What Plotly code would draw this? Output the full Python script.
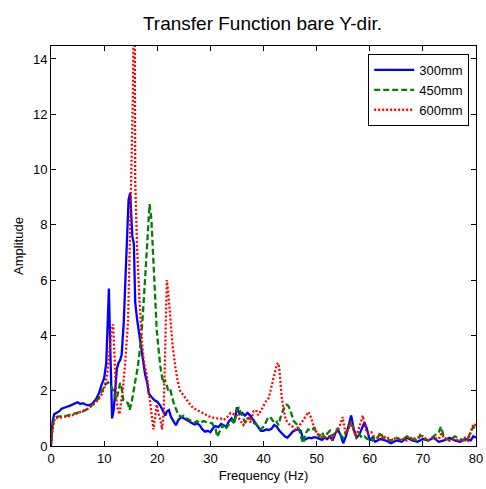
import plotly.graph_objects as go

# ---- data ----
f_300 = [0, 0.3, 0.6, 1, 1.5, 2, 2.5, 3, 3.5, 4, 4.5, 5, 5.5, 6, 6.5, 7, 7.5, 8, 8.5, 9, 9.5, 10,
         10.4, 10.7, 10.9, 11.1, 11.3, 11.5, 11.8, 12, 12.4, 12.7, 13, 13.3, 13.7, 14, 14.3, 14.6,
         14.9, 15.1, 15.3, 15.6, 15.85, 16.2, 16.5, 17.1, 17.7, 18.1, 18.4, 19, 19.5, 20, 20.6, 21,
         21.5, 21.8, 22.2, 22.6, 23, 23.5, 24, 24.6, 25, 25.5, 26, 26.5, 27, 27.5, 28, 28.5, 29,
         29.5, 30, 30.5, 31, 31.5, 32, 32.5, 33, 33.5, 34, 34.5, 35, 35.5, 36, 36.5, 37, 37.5, 38,
         38.5, 39, 39.5, 40, 40.5, 41, 41.5, 42, 42.5, 43, 43.5, 44, 44.5, 45, 45.5, 46, 46.5, 47,
         47.5, 48, 48.5, 49, 49.5, 50, 50.5, 51, 51.5, 52, 52.5, 53, 53.5, 54, 54.5, 55, 55.5, 56,
         56.5, 57, 57.5, 58, 58.5, 59, 59.5, 60, 60.5, 61, 62, 63, 64, 65, 66, 67, 68, 69, 70, 71,
         72, 73, 74, 75, 76, 77, 78, 79, 79.5, 80]
a_300 = [0, 0.9, 1.15, 1.2, 1.25, 1.35, 1.4, 1.42, 1.45, 1.5, 1.55, 1.58, 1.52, 1.55, 1.5, 1.47, 1.5,
         1.58, 1.7, 1.9, 2.2, 2.45, 3.0, 4.5, 5.7, 4.0, 2.0, 1.0, 1.3, 1.9, 2.8, 3.0, 3.1, 3.3, 4.5,
         6.0, 7.8, 8.9, 9.15, 8.5, 7.6, 7.3, 5.2, 4.6, 4.2, 3.4, 2.6, 2.3, 1.9, 1.75, 1.65, 1.6, 1.45,
         1.3, 1.1, 1.25, 1.3, 1.05, 0.9, 0.75, 0.95, 1.05, 1.0, 0.95, 0.9, 0.85, 0.78, 0.82, 0.75,
         0.6, 0.52, 0.55, 0.5, 0.65, 0.72, 0.68, 0.8, 0.75, 0.7, 0.9, 1.0, 0.85, 1.4, 1.15, 1.2, 1.1,
         1.2, 1.1, 0.95, 0.8, 0.65, 0.55, 0.55, 0.6, 0.58, 0.62, 0.76, 0.7, 0.55, 0.45, 0.35, 0.3,
         0.4, 0.52, 0.58, 0.6, 0.55, 0.22, 0.25, 0.3, 0.28, 0.32, 0.3, 0.25, 0.22, 0.3, 0.25, 0.35,
         0.2, 0.45, 0.6, 0.4, 0.1, 0.35, 0.7, 1.1, 0.6, 0.3, 0.4, 0.6, 0.85, 0.6, 0.2, 0.3, 0.15,
         0.25, 0.2, 0.1, 0.2, 0.15, 0.3, 0.2, 0.15, 0.25, 0.2, 0.3, 0.15, 0.2, 0.3, 0.2, 0.15, 0.25,
         0.2, 0.35, 0.3]

f_450 = [0, 0.3, 0.6, 1, 2, 3, 4, 5, 6, 7, 8, 8.5, 9, 9.5, 10.1, 10.75, 11.2, 11.7, 12.3, 12.7, 13,
         13.3, 13.6, 14, 14.5, 14.8, 15.2, 15.8, 16.3, 16.8, 17.2, 17.7, 18.1, 18.55, 18.9, 19.3,
         19.9, 20.3, 20.6, 21.1, 21.4, 21.8, 22.1, 22.5, 23.1, 23.6, 24, 24.5, 25, 25.5, 26.2, 27,
         27.5, 28, 28.7, 29.5, 30.3, 30.7, 31, 31.3, 31.7, 32.3, 32.8, 33.2, 33.7, 34.1, 34.5, 35,
         35.4, 35.7, 36.2, 36.6, 37, 37.5, 38, 38.8, 39.3, 39.8, 40.3, 40.8, 41.3, 41.8, 42.3, 42.8,
         43.3, 43.8, 44.3, 44.7, 45.2, 45.7, 46.2, 46.7, 47.2, 47.5, 47.9, 48.4, 49, 49.5, 50, 50.5,
         51, 51.5, 52, 52.5, 53, 53.5, 54, 54.5, 55, 55.5, 56, 56.5, 57, 57.5, 58, 58.5, 59, 59.5,
         60, 60.5, 61, 61.5, 62, 62.5, 63, 64, 65, 66, 67, 68, 69, 69.5, 70, 71, 72, 73, 73.4, 74,
         75, 76, 77, 78, 78.5, 79, 79.5, 80]
a_450 = [0.1, 0.7, 1.0, 1.05, 1.08, 1.1, 1.15, 1.2, 1.25, 1.35, 1.5, 1.6, 1.75, 1.95, 2.2, 2.3, 2.2,
         2.0, 1.66, 2.0, 2.28, 2.1, 1.66, 1.6, 1.55, 1.3, 1.6, 2.28, 2.8, 3.6, 4.5, 6.0, 7.5, 8.75,
         8.2, 6.6, 4.2, 3.4, 2.86, 2.28, 2.4, 2.2, 1.95, 2.0, 1.55, 1.3, 1.12, 1.05, 1.1, 1.0, 0.94,
         0.85, 0.9, 0.82, 0.9, 0.85, 0.83, 0.7, 0.6, 0.33, 0.5, 0.76, 0.6, 0.7, 0.85, 0.94, 0.8, 1.3,
         1.4, 1.2, 1.0, 0.83, 1.0, 1.0, 0.85, 0.76, 0.6, 0.65, 0.8, 1.0, 1.05, 0.9, 0.95, 0.75, 1.1,
         1.35, 1.5, 1.45, 1.2, 0.9, 0.8, 0.6, 0.25, 0.1, 0.45, 0.6, 0.55, 0.65, 0.5, 0.35, 0.5, 0.3,
         0.45, 0.55, 0.35, 0.5, 0.65, 0.4, 0.3, 0.5, 0.65, 0.9, 0.6, 0.3, 0.45, 0.3, 0.35, 0.25, 0.3,
         0.2, 0.35, 0.3, 0.5, 0.3, 0.25, 0.2, 0.3, 0.2, 0.35, 0.25, 0.2, 0.4, 0.3, 0.2, 0.35, 0.5,
         0.7, 0.3, 0.2, 0.35, 0.25, 0.2, 0.3, 0.5, 0.7, 0.6]

f_600 = [0, 0.3, 0.7, 1.5, 2.5, 3.5, 4.5, 5.1, 6, 7, 8.2, 9, 9.5, 10.1, 10.6, 11, 11.4, 11.7, 12,
         12.3, 12.6, 12.9, 13.2, 13.5, 13.9, 14.2, 14.5, 14.8, 15.1, 15.4, 15.6, 15.75, 15.85, 16.2,
         16.6, 17.1, 17.5, 18, 18.4, 18.7, 19, 19.3, 19.6, 19.9, 20.2, 20.6, 20.9, 21.2, 21.5, 21.8,
         22.1, 22.45, 22.9, 23.4, 23.8, 24.3, 25, 25.6, 26.2, 26.8, 27.5, 28.1, 29, 30, 31, 31.9,
         32.5, 33.2, 33.8, 34.5, 35.1, 35.7, 36.2, 36.6, 37.2, 37.6, 38.1, 38.6, 39, 39.6, 40.4, 41,
         41.3, 41.7, 42.1, 42.5, 42.8, 43, 43.2, 43.4, 43.8, 44.2, 44.6, 45, 45.5, 46, 46.6, 47, 47.5,
         48, 48.5, 49, 49.5, 50.1, 50.8, 51.5, 52.3, 53, 53.5, 54, 54.5, 54.9, 55.2, 55.5, 56, 56.4,
         56.9, 57.4, 57.9, 58.4, 58.7, 59.2, 59.7, 60.3, 60.8, 61.5, 62, 62.5, 63, 64, 65, 66, 67,
         67.5, 68, 69, 70, 71, 72, 73, 73.5, 74, 75, 76, 77, 78, 78.5, 79, 79.5, 80]
a_600 = [0.05, 0.6, 1.0, 1.02, 1.05, 1.08, 1.15, 1.2, 1.25, 1.35, 1.55, 1.7, 1.85, 2.15, 2.6, 3.4,
         4.2, 4.4, 3.0, 1.66, 1.3, 1.15, 1.6, 2.0, 2.86, 3.8, 4.5, 7.0, 9.6, 12.5, 16.0, 16.0, 9.6,
         7.2, 5.5, 3.8, 3.0, 2.6, 2.0, 1.4, 1.05, 0.6, 1.0, 1.5, 1.2, 0.94, 0.6, 1.2, 3.5, 6.0, 5.5,
         4.56, 3.6, 2.86, 2.4, 2.0, 1.8, 1.66, 1.5, 1.37, 1.3, 1.23, 1.15, 1.05, 1.0, 1.0, 0.94, 1.05,
         1.2, 1.15, 1.1, 0.9, 0.76, 0.87, 1.0, 0.85, 1.25, 1.3, 1.12, 1.3, 1.6, 1.75, 2.0, 2.3, 2.6,
         2.95, 3.0, 2.75, 2.3, 1.8, 1.3, 0.94, 0.85, 0.76, 0.7, 0.58, 0.7, 0.8, 0.94, 1.1, 1.23, 1.0,
         0.7, 0.45, 0.33, 0.3, 0.35, 0.25, 0.4, 0.6, 0.8, 1.05, 0.7, 0.45, 0.6, 0.83, 0.6, 0.35, 0.6,
         0.9, 1.1, 0.6, 0.45, 0.5, 0.35, 0.3, 0.4, 0.25, 0.35, 0.2, 0.3, 0.25, 0.2, 0.35, 0.25, 0.3,
         0.35, 0.2, 0.3, 0.25, 0.45, 0.3, 0.2, 0.25, 0.2, 0.3, 0.2, 0.5, 0.8, 0.75]

series_names = ["300mm", "450mm", "600mm"]
x_ticks = [0, 10, 20, 30, 40, 50, 60, 70, 80]
y_ticks = [0, 2, 4, 6, 8, 10, 12, 14]

FONT = "Liberation Sans, Arial, sans-serif"

fig = go.Figure()
fig.add_trace(go.Scatter(x=f_300, y=a_300, mode="lines", name=series_names[0],
                         line=dict(color="#0000ff", width=2.3, dash="solid")))
fig.add_trace(go.Scatter(x=f_450, y=a_450, mode="lines", name=series_names[1],
                         line=dict(color="#008000", width=2.3, dash="6px,3px")))
fig.add_trace(go.Scatter(x=f_600, y=a_600, mode="lines", name=series_names[2],
                         line=dict(color="#ff0000", width=2.3, dash="2px,2px")))

axis_common = dict(showgrid=False, zeroline=False, showline=True, linecolor="black",
                   linewidth=1, mirror="ticks", ticks="inside", ticklen=5, tickcolor="black",
                   automargin=False,
                   tickfont=dict(family=FONT, size=13, color="black"))

fig.update_layout(
    width=486, height=489,
    margin=dict(l=51, r=10, t=46, b=43),
    paper_bgcolor="white", plot_bgcolor="white",
    font=dict(family=FONT, color="black"),
    title=dict(text="Transfer Function bare Y-dir.", x=0.54, xanchor="center",
               y=0.953, yanchor="middle", font=dict(family=FONT, size=19, color="black")),
    xaxis=dict(range=[0, 80], tickvals=x_ticks,
               title=dict(text="Frequency (Hz)", font=dict(family=FONT, size=13), standoff=6),
               **axis_common),
    yaxis=dict(range=[0, 14.47], tickvals=y_ticks,
               title=dict(text="Amplitude", font=dict(family=FONT, size=13), standoff=6),
               **axis_common),
    legend=dict(x=0.984, y=0.98, xanchor="right", yanchor="top",
                bgcolor="white", bordercolor="black", borderwidth=1,
                font=dict(family=FONT, size=13, color="black"),
                tracegroupgap=2, itemwidth=40),
    showlegend=True,
)

fig.write_html("out.html")
